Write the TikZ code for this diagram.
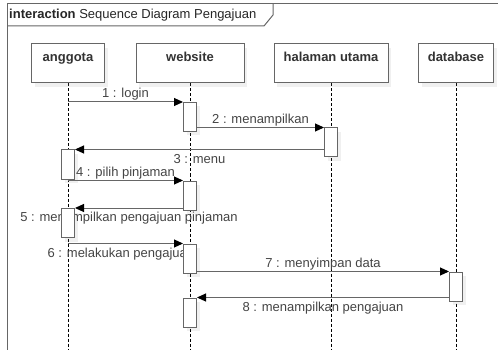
\documentclass[tikz,border=0pt]{standalone}
\usepackage{fontspec}
\setmainfont{Liberation Sans}
\usepackage{tikz}
\usetikzlibrary{arrows.meta,shadows,backgrounds}
\definecolor{linegray}{HTML}{666666}
\definecolor{textgray}{HTML}{444444}
\tikzstyle{head} = [draw=linegray,line width=1pt,fill=white,minimum height=39pt,text height=18pt,text depth=21pt,inner sep=0pt,font=\bfseries\fontsize{13}{15}\selectfont,text=black!80,drop shadow={shadow xshift=3pt,shadow yshift=-4pt,opacity=0.12}]
\tikzstyle{act} = [draw=linegray,line width=1pt,fill=white,minimum width=13pt,minimum height=29pt,inner sep=0pt,drop shadow={shadow xshift=3pt,shadow yshift=-4pt,opacity=0.12}]
\tikzstyle{life} = [line width=1pt,dash pattern=on 3pt off 2pt]
\tikzstyle{msg} = [draw=linegray,line width=1pt,-{Triangle[length=9pt,width=8pt,color=black]}]
\tikzstyle{lbl} = [font=\fontsize{13}{15}\selectfont,text=textgray,inner sep=1pt]

\begin{document}
\begin{tikzpicture}[x=1pt,y=-1pt]
	\useasboundingbox (0,0) rectangle (498,350);
	\coordinate (bottom) at (0,352);
	\draw[linegray,line width=1pt] (7,352) |- (500,4);
	\draw[linegray,line width=1pt] (7,26) -- (264,26) -- (273,15) -- (273,4);
	\node[anchor=west,inner sep=0pt,font=\fontsize{13}{15}\selectfont,text=black!85] (title) at (9,15.5) {\textbf{interaction} Sequence Diagram Pengajuan};

	\node[head,minimum width=73pt] (anggota) at (68,63.5) {anggota};
	\node[head,minimum width=108pt] (website) at (190,63.5) {website};
	\node[head,minimum width=114pt] (halaman) at (331,63.5) {halaman utama};
	\node[head,minimum width=75pt] (database) at (456,63.5) {database};

	\node[act] (w1) at (190,117) {};
	\node[act] (h1) at (331,142.5) {};
	\node[act] (a1) at (68,164.5) {};
	\node[act] (w2) at (190,195.5) {};
	\node[act] (a2) at (68,223) {};
	\node[act] (w3) at (190,258.5) {};
	\node[act] (d1) at (456,286.5) {};
	\node[act] (w4) at (190,312.5) {};

	\begin{pgfonlayer}{background}
		\draw[life] (anggota.south) -- (anggota.south |- bottom);
		\draw[life] (website.south) -- (website.south |- bottom);
		\draw[life] (halaman.south) -- (halaman.south |- bottom);
		\draw[life] (database.south) -- (database.south |- bottom);

		\draw[msg] (anggota |- w1.north) -- (w1.north west) node[lbl,midway,above] {1 : login};
		\draw[msg] (w1.east |- h1.north) -- (h1.north west) node[lbl,midway,above] {2 : menampilkan};
		\draw[msg] (h1.west |- a1.north) -- (a1.north east) node[lbl,midway,below=3pt] {3 : menu};
		\draw[msg] (anggota |- w2.north) -- (w2.north west) node[lbl,midway,above] {4 : pilih pinjaman};
		\draw[msg] (w2.west |- a2.north) -- (a2.north east) node[lbl,midway,below=3pt] {5 : menampilkan pengajuan pinjaman};
		\draw[msg] (anggota |- w3.north) -- (w3.north west) node[lbl,pos=0.46,below=3pt] {6 : melakukan pengajuan};
		\draw[msg] (w3.east |- d1.north) -- (d1.north west) node[lbl,midway,above] {7 : menyimpan data};
		\draw[msg] (d1.west |- w4.north) -- (w4.north east) node[lbl,midway,below=3pt] {8 : menampilkan pengajuan};
	\end{pgfonlayer}
\end{tikzpicture}
\end{document}
